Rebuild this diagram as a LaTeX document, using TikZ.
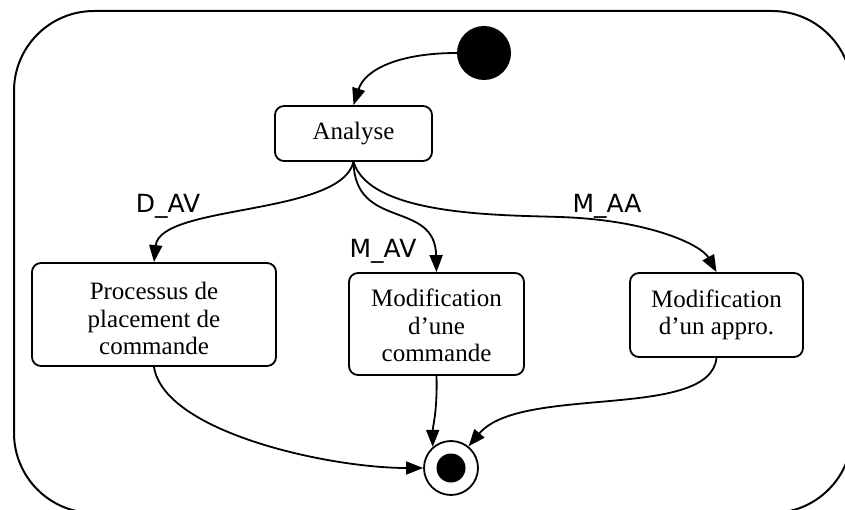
\documentclass[tikz,border=0pt]{standalone}
\usepackage{fontspec}
\setmainfont{Liberation Serif}
\newfontfamily\lblfont{DejaVu Sans}
\usetikzlibrary{arrows.meta}
\begin{document}
\begin{tikzpicture}[x=1pt,y=-1pt,
  statebox/.style={draw, line width=1.8pt, rounded corners=9pt, align=center, inner sep=0pt,
    font=\fontsize{25}{27.5}\selectfont},
  tr/.style={-{Triangle[length=17pt,width=13pt]}, line width=1.8pt},
  lbl/.style={font=\lblfont\fontsize{25}{30}\selectfont, anchor=base, inner sep=0pt},
  frame/.style={line width=2pt, rounded corners=80pt}]
\useasboundingbox (0,0) rectangle (845,510);
\clip (0,0) rectangle (845,510);
\draw[frame] (14,11) rectangle (852,513);

\node[circle, fill, minimum size=54pt, inner sep=0pt] (init) at (484,53) {};
\node[statebox, minimum width=157pt, minimum height=55pt] (an) at (353.5,133.5) {Analyse};
\node[statebox, minimum width=244pt, minimum height=103pt] (pr) at (154,314.5) {\rule{0pt}{26pt}Processus de\\placement de\\commande};
\node[statebox, minimum width=175pt, minimum height=102pt] (mc) at (436.5,324) {\rule{0pt}{21pt}Modification\\d’une\\commande};
\node[statebox, minimum width=173pt, minimum height=84pt] (ma) at (716.5,315) {Modification\\d’un appro.};
\node[circle, draw, line width=1.8pt, minimum size=54pt, inner sep=0pt] (fin) at (451,468) {};
\node[circle, fill, minimum size=29pt, inner sep=0pt] (finin) at (fin.center) {};

\coordinate (maMid) at (560,217);

\draw[tr] (init.west) .. controls +(-57,0) and +(11.5,-36) .. (an.north);
\draw[tr] (an.south) .. controls +(-13,54) and +(6,-58) .. (pr.north);
\draw[tr] (an.south) .. controls +(1.5,69) and +(-1.5,-73) .. (mc.north);
\draw[tr] (an.south) .. controls +(16.5,54) and +(-60,-2) .. (maMid) .. controls +(90,3) and +(-15,-27) .. (ma.north);
\draw[tr] (pr.south) .. controls +(10,65) and +(-95,0) .. (fin.west);
\draw[tr] (mc.south) .. controls +(1,35) and +(0,-20) .. (fin.131);
\draw[tr] (ma.south) .. controls +(-6.5,63) and +(52,-62) .. (fin.51);

\node[lbl] (ldav) at (168,213) {D\_AV};
\node[lbl] (lmav) at (383,258) {M\_AV};
\node[lbl] (lmaa) at (607,213) {M\_AA};
\end{tikzpicture}
\end{document}
